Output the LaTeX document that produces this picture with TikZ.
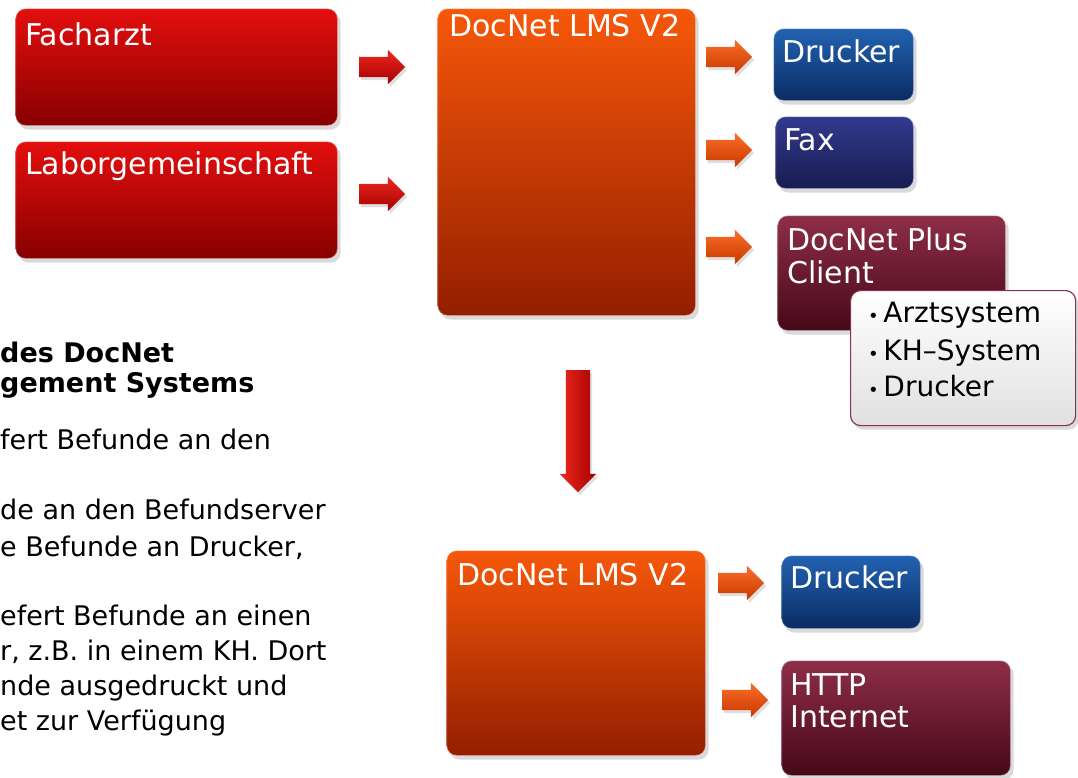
\documentclass[tikz,border=0pt]{standalone}
\usepackage{fontspec}
\setmainfont{DejaVu Sans}
\usetikzlibrary{shapes.arrows,shadows,calc}
\definecolor{redtop}{RGB}{228,14,14}
\definecolor{redbot}{RGB}{135,0,0}
\definecolor{oratop}{RGB}{246,88,10}
\definecolor{orabot}{RGB}{148,30,0}
\definecolor{bluetop}{RGB}{34,98,178}
\definecolor{bluebot}{RGB}{10,44,98}
\definecolor{navytop}{RGB}{50,58,142}
\definecolor{navybot}{RGB}{24,28,80}
\definecolor{wintop}{RGB}{142,46,72}
\definecolor{winbot}{RGB}{70,8,24}
\definecolor{listrim}{RGB}{140,50,80}
\definecolor{arrred}{RGB}{236,40,30}
\definecolor{arrredd}{RGB}{165,0,0}
\definecolor{arrora}{RGB}{250,110,40}
\definecolor{arrorad}{RGB}{200,56,0}

\begin{document}
\begin{tikzpicture}[x=1pt,y=-1pt,
  glossbox/.style={rectangle,rounded corners=10pt,anchor=north west,inner sep=0pt,
    draw=white,draw opacity=.35,line width=1.2pt,
    drop shadow={opacity=.3,shadow xshift=3pt,shadow yshift=-4pt}},
  redbox/.style={glossbox,top color=redtop,bottom color=redbot},
  orabox/.style={glossbox,top color=oratop,bottom color=orabot},
  bluebox/.style={glossbox,top color=bluetop,bottom color=bluebot},
  navybox/.style={glossbox,top color=navytop,bottom color=navybot},
  winebox/.style={glossbox,top color=wintop,bottom color=winbot},
  listbox/.style={glossbox,top color=white,bottom color=black!12,draw=listrim,draw opacity=1},
  title/.style={anchor=base west,text=white,font=\fontsize{30}{33}\selectfont,inner sep=0pt},
  item/.style={anchor=base west,font=\fontsize{28}{30}\selectfont,inner sep=0pt},
  bodytxt/.style={anchor=base west,font=\fontsize{27}{30}\selectfont,inner sep=0pt},
  headtxt/.style={bodytxt,font=\fontsize{27}{30}\selectfont\bfseries},
  blockarrow/.style={single arrow,single arrow head extend=7pt,minimum height=46pt,
    inner xsep=0pt,inner ysep=10pt,
    drop shadow={opacity=.25,shadow xshift=2pt,shadow yshift=-3pt}},
  redarrow/.style={blockarrow,top color=arrred,bottom color=arrredd},
  oraarrow/.style={blockarrow,top color=arrora,bottom color=arrorad}]
\useasboundingbox (0,0) rectangle (1078,777);

% Sender
\node[redbox,minimum width=322,minimum height=117] (fach) at (15,8) {};
\node[title] (fachT) at ($(fach.north west)+(10,37)$) {Facharzt};
\node[redbox,minimum width=322,minimum height=117] (labor) at (15,141) {};
\node[title] (laborT) at ($(labor.north west)+(10,33)$) {Laborgemeinschaft};
\node[redarrow] (a1) at (377,67) {};
\node[redarrow] (a2) at (377,194) {};

% Befundserver
\node[orabox,minimum width=258,minimum height=307] (lms) at (437,8) {};
\node[title] (lmsT) at ($(lms.north west)+(12,28)$) {DocNet LMS V2};
\node[oraarrow] (a3) at (724,57) {};
\node[oraarrow] (a4) at (724,150) {};
\node[oraarrow] (a5) at (724,247) {};

\node[bluebox,minimum width=140,minimum height=72] (druck) at (773,28) {};
\node[title] (druckT) at ($(druck.north west)+(9,34)$) {Drucker};
\node[navybox,minimum width=138,minimum height=72] (fax) at (775,116) {};
\node[title] (faxT) at ($(fax.north west)+(9,34)$) {Fax};
\node[winebox,minimum width=228,minimum height=115] (plus) at (777,215) {};
\node[title] (plusT) at ($(plus.north west)+(10,35)$) {DocNet Plus};
\node[title] (plusT2) at ($(plus.north west)+(10,68)$) {Client};
\node[listbox,minimum width=225,minimum height=135] (list) at (850,290) {};
\node[item] (i1) at ($(list.north west)+(18,32)$) {{\fontsize{18}{18}\selectfont•}\,Arztsystem};
\node[item] (i2) at ($(list.north west)+(18,70)$) {{\fontsize{18}{18}\selectfont•}\,KH–System};
\node[item] (i3) at ($(list.north west)+(18,106)$) {{\fontsize{18}{18}\selectfont•}\,Drucker};

% weiter nach unten
\node[single arrow,shape border rotate=270,minimum height=122pt,inner xsep=12pt,inner ysep=0pt,
  single arrow head extend=6pt,left color=arrred,right color=arrredd,
  drop shadow={opacity=.25,shadow xshift=2pt,shadow yshift=-3pt}] (down) at (578,425) {};

\node[orabox,minimum width=259,minimum height=205] (lms2) at (446,550) {};
\node[title] (lms2T) at ($(lms2.north west)+(11,35)$) {DocNet LMS V2};
\node[oraarrow] (a6) at (736,583) {};
\node[oraarrow] (a7) at (740,700) {};
\node[bluebox,minimum width=139,minimum height=73] (druck2) at (781,555) {};
\node[title] (druck2T) at ($(druck2.north west)+(9,33)$) {Drucker};
\node[winebox,minimum width=229,minimum height=115] (http) at (781,660) {};
\node[title] (httpT) at ($(http.north west)+(9,35)$) {HTTP};
\node[title] (httpT2) at ($(http.north west)+(9,67)$) {Internet};

% Text links
\node[headtxt] (h1) at (0,362) {des DocNet};
\node[headtxt] (h2) at (0,392) {gement Systems};
\node[bodytxt] (l1) at (0,449) {fert Befunde an den};
\node[bodytxt] (l2) at (0,519) {de an den Befundserver};
\node[bodytxt] (l3) at (0,556) {e Befunde an Drucker,};
\node[bodytxt] (l4) at (0,625) {efert Befunde an einen};
\node[bodytxt] (l5) at (0,660) {r, z.B. in einem KH. Dort};
\node[bodytxt] (l6) at (0,695) {nde ausgedruckt und};
\node[bodytxt] (l7) at (0,730) {et zur Verfügung};
\end{tikzpicture}
\end{document}
